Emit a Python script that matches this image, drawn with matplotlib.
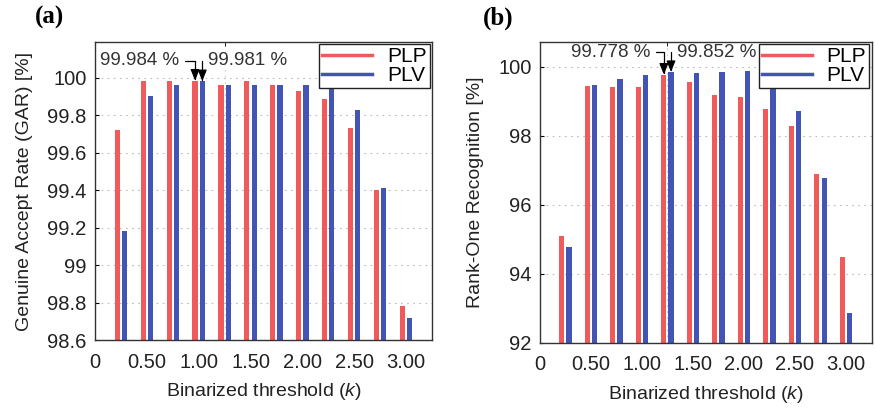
import numpy as np
import matplotlib
matplotlib.use('Agg')
import matplotlib.pyplot as plt
from matplotlib.ticker import FormatStrFormatter

plt.rcParams['font.family'] = ['Liberation Sans', 'DejaVu Sans']
plt.rcParams['mathtext.fontset'] = 'custom'
plt.rcParams['mathtext.it'] = 'Liberation Sans:italic'
plt.rcParams['mathtext.rm'] = 'Liberation Sans'

# binarized threshold k for each bar group
k = [0.25, 0.5, 0.75, 1.0, 1.25, 1.5, 1.75, 2.0, 2.25, 2.5, 2.75, 3.0]
xtick_pos = [0, 0.5, 1.0, 1.5, 2.0, 2.5, 3.0]
xtick_labels = ['0', '0.50', '1.00', '1.50', '2.00', '2.50', '3.00']

# (a) genuine accept rate
gar_plp = [99.72, 99.98, 99.98, 99.984, 99.96, 99.98, 99.96, 99.93, 99.885, 99.73, 99.40, 98.78]
gar_plv = [99.18, 99.90, 99.96, 99.981, 99.96, 99.96, 99.96, 99.96, 99.96, 99.83, 99.41, 98.72]

# (b) rank-one recognition
r1_plp = [95.09, 99.44, 99.42, 99.42, 99.778, 99.57, 99.18, 99.12, 98.78, 98.30, 96.89, 94.49]
r1_plv = [94.77, 99.47, 99.64, 99.76, 99.852, 99.82, 99.84, 99.87, 99.60, 98.72, 96.77, 92.87]

red = '#f05a5a'
blue = '#4255b5'
w = 0.05
off = 0.035

fig = plt.figure(figsize=(8.75, 4.11), dpi=100)
ax1 = fig.add_axes([0.1086, 0.1727, 0.385, 0.725])
ax2 = fig.add_axes([0.617, 0.1655, 0.379, 0.732])


def draw_panel(ax, plp, plv, ylim, yticks, ylabel, fmt):
    x = np.array(k)
    ax.bar(x - off, plp, width=w, color=red, zorder=2)
    ax.bar(x + off, plv, width=w, color=blue, zorder=2)
    ax.plot([], [], color=red, lw=2.5, label='PLP')
    ax.plot([], [], color=blue, lw=2.5, label='PLV')
    ax.set_xlim(0, 3.25)
    ax.set_ylim(*ylim)
    ax.set_yticks(yticks)
    ax.yaxis.set_major_formatter(FormatStrFormatter(fmt))
    ax.set_xticks(xtick_pos, xtick_labels)
    ax.set_xticks([1.25, 2.5], minor=True)
    ax.tick_params(axis='x', which='major', length=0, pad=9, labelsize=14.5,
                   labelcolor='#222222')
    ax.tick_params(axis='x', which='minor', top=True, bottom=False,
                   direction='in', length=3)
    ax.tick_params(axis='y', direction='in', length=3, labelsize=14.5, pad=6,
                   labelcolor='#222222')
    ax.grid(axis='y', which='major', linestyle=(0, (1.5, 4)), color='#bbbbbb',
            lw=0.8, zorder=0)
    ax.grid(axis='x', which='minor', linestyle=(0, (1.5, 4)), color='#cccccc',
            lw=0.8, zorder=0)
    ax.set_axisbelow(True)
    for s in ax.spines.values():
        s.set_linewidth(1.0)
        s.set_color('#333333')
    ax.set_xlabel('Binarized threshold ($\\mathit{k}$)', fontsize=14,
                  labelpad=7, color='#222222')
    ax.set_ylabel(ylabel, fontsize=14, labelpad=10, color='#222222')
    leg = ax.legend(loc='upper right', fontsize=15, frameon=True, fancybox=False,
                    edgecolor='#222222', framealpha=1, handlelength=2.4,
                    borderaxespad=0.1, borderpad=0.15, labelspacing=0.0,
                    handletextpad=0.7)
    leg.get_frame().set_linewidth(1.0)
    leg.set_zorder(5)


def bracket(ax, xa, ya, xt, yt, txt, side):
    ax.annotate(txt, xy=(xa, ya), xytext=(xt, yt), textcoords='data',
                ha='right' if side == 'left' else 'left', va='center',
                fontsize=13.5, color='#333333',
                arrowprops=dict(arrowstyle='-|>,head_length=0.5,head_width=0.2',
                                connectionstyle='angle,angleA=0,angleB=90,rad=0',
                                color='black', lw=0.9, shrinkA=2, shrinkB=0),
                zorder=6)


draw_panel(ax1, gar_plp, gar_plv, (98.6, 100.19),
           [98.6, 98.8, 99.0, 99.2, 99.4, 99.6, 99.8, 100.0],
           'Genuine Accept Rate (GAR) [%]', '%g')
bracket(ax1, k[3] - off, gar_plp[3], 0.81, 100.09, '%.3f %%' % gar_plp[3], 'left')
bracket(ax1, k[3] + off, gar_plv[3], 1.09, 100.09, '%.3f %%' % gar_plv[3], 'right')

draw_panel(ax2, r1_plp, r1_plv, (92, 100.72), [92, 94, 96, 98, 100],
           'Rank-One Recognition [%]', '%g')
bracket(ax2, k[4] - off, r1_plp[4], 1.08, 100.42, '%.3f %%' % r1_plp[4], 'left')
bracket(ax2, k[4] + off, r1_plv[4], 1.34, 100.42, '%.3f %%' % r1_plv[4], 'right')

fig.text(0.040, 0.985, '(a)', family='Liberation Serif', fontweight='bold',
         fontsize=18, va='top')
fig.text(0.552, 0.985, '(b)', family='Liberation Serif', fontweight='bold',
         fontsize=18, va='top')

fig.savefig('out.png', dpi=100)
